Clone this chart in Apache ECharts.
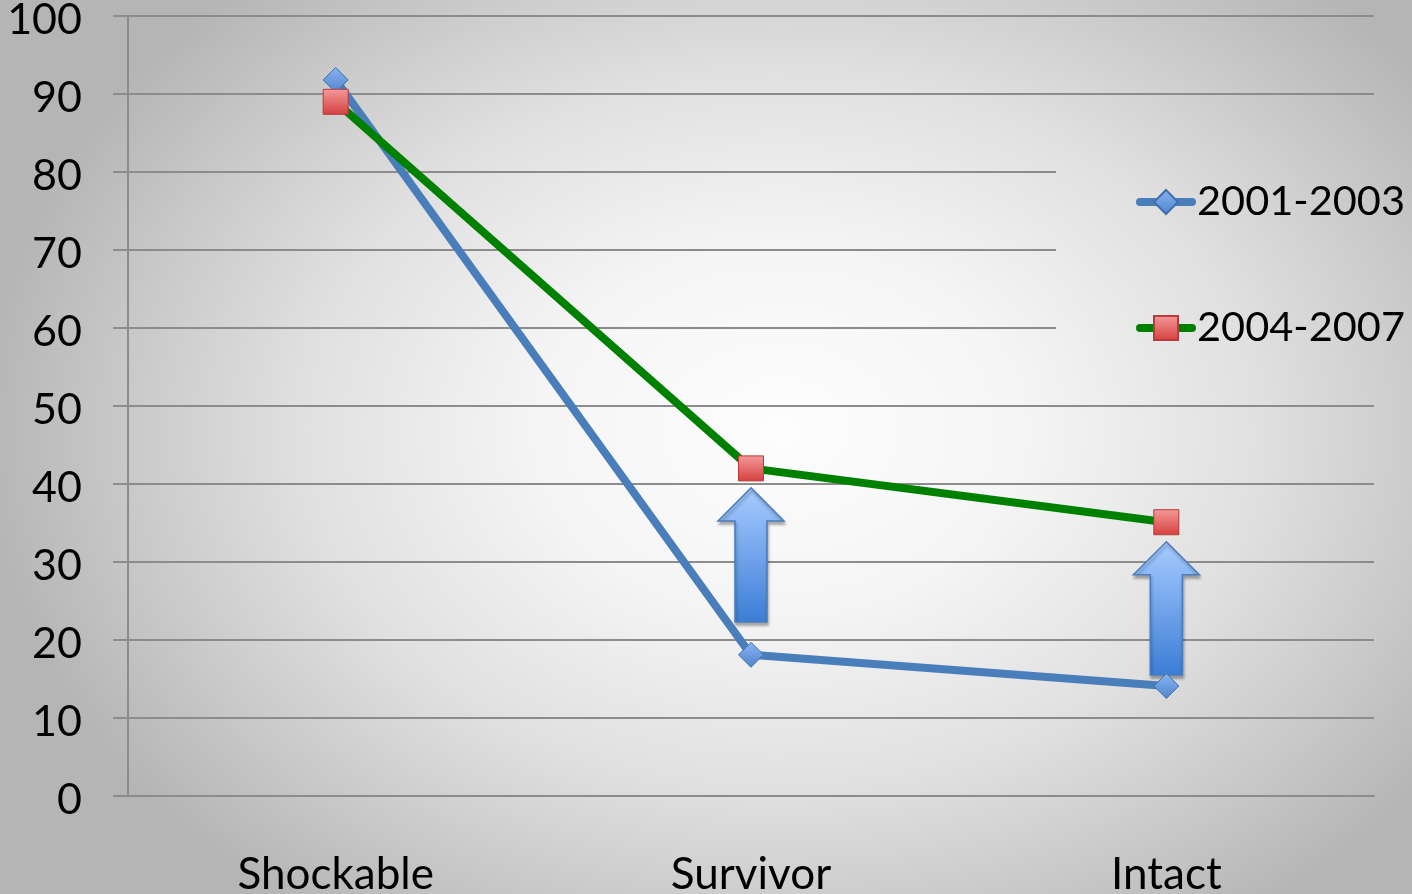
<!DOCTYPE html>
<html><head><meta charset="utf-8">
<script src="https://cdn.jsdelivr.net/npm/echarts@6/dist/echarts.min.js"></script>
<style>
html,body{margin:0;padding:0;overflow:hidden;background:#d8d8d8;}
#c{width:1412px;height:894px;}
</style></head><body><div id="c"></div>
<script>
const categories = ['Shockable', 'Survivor', 'Intact'];
const series2001 = [91.8, 18.1, 14.1];
const series2004 = [89.0, 42.0, 35.1];
const seriesNames = ['2001-2003', '2004-2007'];
const arrowCategories = ['Survivor', 'Intact'];
const arrowFrom = [22.3, 15.5];
const arrowTo = [39.5, 32.6];

const chart = echarts.init(document.getElementById('c'), null, {renderer: 'canvas'});
const G = echarts.graphic.LinearGradient;
const gray = '#8c8c8c';
const font = 'Lato';

// elliptical background gradient (circle in local coords, stretched horizontally)
const W = 1412, H = 894;
const bgCx = 780, bgCy = 430, bgRx = 800, bgRy = 600;
const sx = bgRx / bgRy;
function bgFill() {
  return new echarts.graphic.RadialGradient(bgCx / sx, bgCy, bgRy, [
    {offset: 0, color: '#fdfdfd'},
    {offset: 0.3, color: '#f5f5f5'},
    {offset: 0.6, color: '#e0e0e0'},
    {offset: 0.8, color: '#cbcbcb'},
    {offset: 1, color: '#b5b5b5'}
  ], true);
}
const legendBox = {x: 1056, y: 118, w: 356, h: 260};

const option = {
  animation: false,
  backgroundColor: 'transparent',
  graphic: [
    {type: 'rect', silent: true, z: -100, scaleX: sx,
     shape: {x: 0, y: 0, width: W / sx, height: H}, style: {fill: bgFill()}},
    {type: 'rect', silent: true, z: 1, scaleX: sx,
     shape: {x: legendBox.x / sx, y: legendBox.y, width: legendBox.w / sx, height: legendBox.h}, style: {fill: bgFill()}}
  ],
  grid: {left: 128, right: 38, top: 16, bottom: 98, containLabel: false, outerBoundsMode: 'none'},
  legend: {
    orient: 'vertical', left: 1056, top: 118,
    padding: [61, 10, 24, 80],
    itemGap: 80, itemWidth: 52, itemHeight: 30,
    selectedMode: false,
    data: seriesNames,
    lineStyle: {width: 8, cap: 'round'},
    textStyle: {fontFamily: font, fontSize: 41.5, color: '#000', lineHeight: 46}
  },
  xAxis: {
    type: 'category', data: categories, boundaryGap: true,
    axisLine: {lineStyle: {color: gray, width: 2}},
    axisTick: {length: 13, lineStyle: {color: gray, width: 2}},
    axisLabel: {fontFamily: font, fontSize: 44, color: '#000', margin: 57},
    splitLine: {show: false}
  },
  yAxis: {
    type: 'value', min: 0, max: 100, interval: 10,
    axisLine: {show: true, lineStyle: {color: gray, width: 2}},
    axisTick: {show: true, length: 15, lineStyle: {color: gray, width: 2}},
    axisLabel: {fontFamily: font, fontSize: 43, color: '#000', margin: 46, verticalAlign: 'top', lineHeight: 9},
    splitLine: {lineStyle: {color: gray, width: 2}}
  },
  series: [
    {
      type: 'custom', name: 'arrows', z: 1,
      data: arrowCategories.map((c, i) => [c, arrowFrom[i], arrowTo[i]]),
      encode: {x: 0, y: [1, 2]},
      renderItem: function (params, api) {
        const top = api.coord([api.value(0), api.value(2)]);
        const bot = api.coord([api.value(0), api.value(1)]);
        const cx = top[0];
        const bw = 16, hw = 33, hl = 33;
        const pts = [[cx, top[1]], [cx + hw, top[1] + hl], [cx + bw, top[1] + hl], [cx + bw, bot[1]],
                     [cx - bw, bot[1]], [cx - bw, top[1] + hl], [cx - hw, top[1] + hl]];
        return {
          type: 'polygon', shape: {points: pts},
          style: {
            fill: new G(0, 0, 0, 1, [{offset: 0, color: '#a8ccff'}, {offset: 1, color: '#3b7dd6'}]),
            stroke: '#4a7ebb', lineWidth: 1.5,
            shadowBlur: 3, shadowColor: 'rgba(0,0,0,0.3)', shadowOffsetX: 1, shadowOffsetY: 3
          }
        };
      }
    },
    {
      name: seriesNames[0], type: 'line', data: series2001, z: 3,
      symbol: 'diamond', symbolSize: 25,
      lineStyle: {color: '#4a7ebb', width: 8},
      itemStyle: {color: new G(0, 0, 0, 1, [{offset: 0, color: '#8ab4f2'}, {offset: 1, color: '#4f84cc'}]), borderColor: '#3d6fb0', borderWidth: 1},
      emphasis: {disabled: true}
    },
    {
      name: seriesNames[1], type: 'line', data: series2004, z: 4,
      symbol: 'rect', symbolSize: 25,
      lineStyle: {color: '#008000', width: 8},
      itemStyle: {color: new G(0, 0, 0, 1, [{offset: 0, color: '#f59a9a'}, {offset: 1, color: '#d4403f'}]), borderColor: '#b83a3a', borderWidth: 1},
      emphasis: {disabled: true}
    }
  ]
};
chart.setOption(option);
</script></body></html>
